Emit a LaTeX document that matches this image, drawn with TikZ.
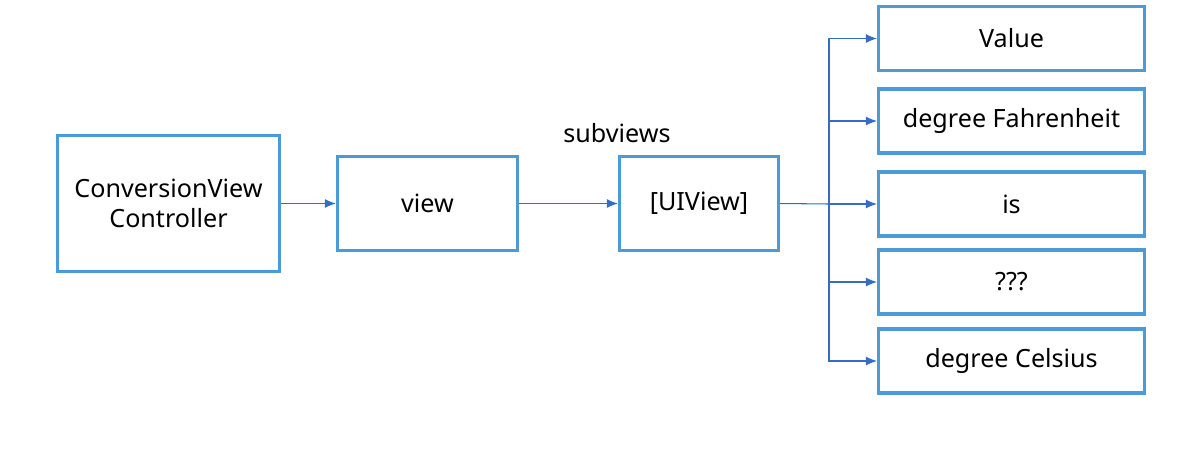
\documentclass[tikz,border=0pt]{standalone}
\usepackage{fontspec}
\setmainfont{Noto Sans}
\usetikzlibrary{arrows.meta}

\definecolor{boxblue}{RGB}{74,155,215}
\definecolor{arrowblue}{RGB}{52,108,200}

\tikzset{
  box/.style={draw=boxblue, line width=0.065cm, rectangle, align=center, font=\fontsize{14.3}{17}\selectfont},
  arr/.style={draw=arrowblue, line width=0.6pt, -{Latex[length=0.22cm, width=0.18cm]}}
}

\begin{document}
\begin{tikzpicture}[x=0.02cm, y=-0.02cm]
    \useasboundingbox (0,0) rectangle (1202,474);

    \node[box, minimum width=4.44cm, minimum height=2.72cm] at (168.5,203.5) (controller) {ConversionView\\Controller};
    \node[box, minimum width=3.6cm, minimum height=1.88cm] at (427.5,203.5) (view) {view};
    \node[box, minimum width=3.18cm, minimum height=1.88cm] at (699,203.5) (subviewlist) {[UIView]};
    \node[font=\fontsize{14.3}{17}\selectfont] at (617,133) (subviewslabel) {subviews};

    \node[box, minimum width=5.32cm, minimum height=1.28cm] at (1011.5,38.5) (value) {Value};
    \node[box, minimum width=5.32cm, minimum height=1.28cm] at (1011.5,121) (fahrenheit) {degree Fahrenheit};
    \node[box, minimum width=5.32cm, minimum height=1.28cm] at (1011.5,204) (is) {is};
    \node[box, minimum width=5.32cm, minimum height=1.28cm] at (1011.5,282) (unknown) {???};
    \node[box, minimum width=5.32cm, minimum height=1.28cm] at (1011.5,361) (celsius) {degree Celsius};

    \coordinate (branch) at (829,204);

    \draw[arr] (controller.east) -- (view.west);
    \draw[arr] (view.east) -- (subviewlist.west);
    \draw[draw=arrowblue, line width=0.6pt] (subviewlist.east) -- (branch);
    \foreach \target in {value, fahrenheit, is, unknown, celsius}
      \draw[arr] (branch) |- (\target.west);
  \end{tikzpicture}
\end{document}
